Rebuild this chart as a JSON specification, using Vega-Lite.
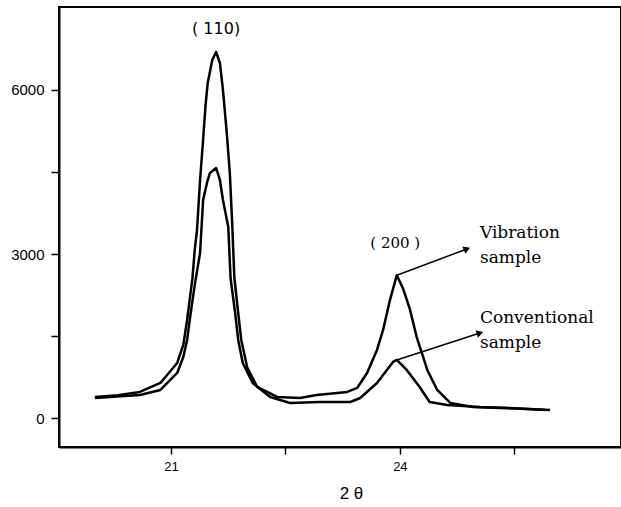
{
  "$schema": "https://vega.github.io/schema/vega-lite/v6.json",
  "width": 562,
  "height": 440,
  "autosize": {"type": "none"},
  "padding": {"left": 59, "top": 7, "right": 0, "bottom": 60},
  "background": "white",
  "config": {
    "view": {"stroke": "black", "strokeWidth": 2},
    "axis": {"domainColor": "black", "tickColor": "black", "labelColor": "black", "titleColor": "black", "grid": false, "domainWidth": 2, "tickWidth": 1.5, "labelFont": "Liberation Sans", "titleFont": "Liberation Sans"}
  },
  "datasets": {
    "curves": [
      {"series": "Vibration", "x": 20.00, "y": 389},
      {"series": "Vibration", "x": 20.30, "y": 420},
      {"series": "Vibration", "x": 20.59, "y": 481},
      {"series": "Vibration", "x": 20.86, "y": 645},
      {"series": "Vibration", "x": 21.08, "y": 1011},
      {"series": "Vibration", "x": 21.16, "y": 1340},
      {"series": "Vibration", "x": 21.21, "y": 1796},
      {"series": "Vibration", "x": 21.28, "y": 2560},
      {"series": "Vibration", "x": 21.31, "y": 3075},
      {"series": "Vibration", "x": 21.34, "y": 3441},
      {"series": "Vibration", "x": 21.38, "y": 4355},
      {"series": "Vibration", "x": 21.42, "y": 5086},
      {"series": "Vibration", "x": 21.45, "y": 5689},
      {"series": "Vibration", "x": 21.48, "y": 6128},
      {"series": "Vibration", "x": 21.54, "y": 6548},
      {"series": "Vibration", "x": 21.59, "y": 6694},
      {"series": "Vibration", "x": 21.64, "y": 6493},
      {"series": "Vibration", "x": 21.68, "y": 6000},
      {"series": "Vibration", "x": 21.73, "y": 5214},
      {"series": "Vibration", "x": 21.77, "y": 4483},
      {"series": "Vibration", "x": 21.80, "y": 3600},
      {"series": "Vibration", "x": 21.83, "y": 2560},
      {"series": "Vibration", "x": 21.88, "y": 1924},
      {"series": "Vibration", "x": 21.92, "y": 1431},
      {"series": "Vibration", "x": 22.00, "y": 920},
      {"series": "Vibration", "x": 22.13, "y": 572},
      {"series": "Vibration", "x": 22.39, "y": 389},
      {"series": "Vibration", "x": 22.69, "y": 371},
      {"series": "Vibration", "x": 22.91, "y": 426},
      {"series": "Vibration", "x": 23.31, "y": 481},
      {"series": "Vibration", "x": 23.44, "y": 554},
      {"series": "Vibration", "x": 23.57, "y": 828},
      {"series": "Vibration", "x": 23.70, "y": 1248},
      {"series": "Vibration", "x": 23.78, "y": 1614},
      {"series": "Vibration", "x": 23.87, "y": 2160},
      {"series": "Vibration", "x": 23.96, "y": 2615},
      {"series": "Vibration", "x": 24.04, "y": 2377},
      {"series": "Vibration", "x": 24.13, "y": 2001},
      {"series": "Vibration", "x": 24.22, "y": 1488},
      {"series": "Vibration", "x": 24.36, "y": 883},
      {"series": "Vibration", "x": 24.49, "y": 517},
      {"series": "Vibration", "x": 24.66, "y": 280},
      {"series": "Vibration", "x": 24.96, "y": 207},
      {"series": "Vibration", "x": 25.31, "y": 188},
      {"series": "Vibration", "x": 25.70, "y": 170},
      {"series": "Vibration", "x": 25.97, "y": 152},
      {"series": "Conventional", "x": 20.00, "y": 371},
      {"series": "Conventional", "x": 20.59, "y": 426},
      {"series": "Conventional", "x": 20.86, "y": 517},
      {"series": "Conventional", "x": 21.08, "y": 828},
      {"series": "Conventional", "x": 21.16, "y": 1120},
      {"series": "Conventional", "x": 21.21, "y": 1431},
      {"series": "Conventional", "x": 21.25, "y": 1852},
      {"series": "Conventional", "x": 21.31, "y": 2432},
      {"series": "Conventional", "x": 21.38, "y": 3020},
      {"series": "Conventional", "x": 21.42, "y": 3989},
      {"series": "Conventional", "x": 21.47, "y": 4300},
      {"series": "Conventional", "x": 21.51, "y": 4483},
      {"series": "Conventional", "x": 21.59, "y": 4574},
      {"series": "Conventional", "x": 21.64, "y": 4355},
      {"series": "Conventional", "x": 21.68, "y": 3989},
      {"series": "Conventional", "x": 21.75, "y": 3496},
      {"series": "Conventional", "x": 21.78, "y": 2560},
      {"series": "Conventional", "x": 21.84, "y": 1924},
      {"series": "Conventional", "x": 21.88, "y": 1431},
      {"series": "Conventional", "x": 21.94, "y": 1011},
      {"series": "Conventional", "x": 22.07, "y": 645},
      {"series": "Conventional", "x": 22.30, "y": 389},
      {"series": "Conventional", "x": 22.56, "y": 280},
      {"series": "Conventional", "x": 22.95, "y": 298},
      {"series": "Conventional", "x": 23.35, "y": 298},
      {"series": "Conventional", "x": 23.48, "y": 371},
      {"series": "Conventional", "x": 23.70, "y": 645},
      {"series": "Conventional", "x": 23.91, "y": 1029},
      {"series": "Conventional", "x": 23.96, "y": 1066},
      {"series": "Conventional", "x": 24.09, "y": 883},
      {"series": "Conventional", "x": 24.26, "y": 572},
      {"series": "Conventional", "x": 24.39, "y": 298},
      {"series": "Conventional", "x": 24.62, "y": 243},
      {"series": "Conventional", "x": 25.05, "y": 207},
      {"series": "Conventional", "x": 25.44, "y": 188},
      {"series": "Conventional", "x": 25.90, "y": 152}
    ],
    "arrows": [
      {"series": "Vibration", "x": 23.96, "y": 2615, "x2": 24.88, "y2": 3094},
      {"series": "Conventional", "x": 23.96, "y": 1066, "x2": 25.05, "y2": 1559}
    ],
    "notes": [
      {"x": 25.05, "y": 3386, "label": "Vibration"},
      {"x": 25.05, "y": 2930, "label": "sample"},
      {"x": 25.05, "y": 1830, "label": "Conventional"},
      {"x": 25.05, "y": 1376, "label": "sample"}
    ]
  },
  "layer": [
    {
      "data": {"name": "curves"},
      "mark": {"type": "line", "color": "black", "strokeWidth": 2.5, "strokeJoin": "round"},
      "encoding": {
        "x": {
          "field": "x", "type": "quantitative",
          "scale": {"domain": [19.53, 26.9], "nice": false, "zero": false},
          "axis": {"values": [21, 22.5, 24, 25.5], "format": "d", "labelExpr": "datum.value === 21 || datum.value === 24 ? datum.label : ''", "tickSize": 7, "labelFontSize": 13, "labelPadding": 6, "title": "2 θ", "titleFontSize": 17, "titleFontWeight": "normal", "titlePadding": 12, "titleX": 292}
        },
        "y": {
          "field": "y", "type": "quantitative",
          "scale": {"domain": [-525, 7516], "nice": false, "zero": false},
          "axis": {"values": [0, 1500, 3000, 4500, 6000], "format": "d", "labelExpr": "datum.value % 3000 === 0 ? datum.label : ''", "tickSize": 8, "labelFontSize": 15, "labelPadding": 7, "title": null}
        },
        "detail": {"field": "series"}
      }
    },
    {
      "data": {"name": "arrows"},
      "mark": {"type": "rule", "color": "black", "strokeWidth": 1.5},
      "encoding": {
        "x": {"field": "x", "type": "quantitative"},
        "y": {"field": "y", "type": "quantitative"},
        "x2": {"field": "x2"},
        "y2": {"field": "y2"}
      }
    },
    {
      "data": {"name": "arrows"},
      "transform": [{"filter": "datum.series === 'Vibration'"}],
      "mark": {"type": "point", "shape": "triangle-right", "filled": true, "color": "black", "size": 60, "angle": 339, "opacity": 1},
      "encoding": {
        "x": {"field": "x2", "type": "quantitative"},
        "y": {"field": "y2", "type": "quantitative"}
      }
    },
    {
      "data": {"name": "arrows"},
      "transform": [{"filter": "datum.series === 'Conventional'"}],
      "mark": {"type": "point", "shape": "triangle-right", "filled": true, "color": "black", "size": 60, "angle": 342, "opacity": 1},
      "encoding": {
        "x": {"field": "x2", "type": "quantitative"},
        "y": {"field": "y2", "type": "quantitative"}
      }
    },
    {
      "data": {"values": [{"x": 21.59, "y": 7114, "label": "( 110)"}]},
      "mark": {"type": "text", "font": "DejaVu Sans", "fontSize": 16, "align": "center", "baseline": "middle", "color": "black"},
      "encoding": {
        "x": {"field": "x", "type": "quantitative"},
        "y": {"field": "y", "type": "quantitative"},
        "text": {"field": "label"}
      }
    },
    {
      "data": {"values": [{"x": 23.94, "y": 3204, "label": "( 200 )"}]},
      "mark": {"type": "text", "font": "DejaVu Serif", "fontSize": 15, "align": "center", "baseline": "middle", "color": "black"},
      "encoding": {
        "x": {"field": "x", "type": "quantitative"},
        "y": {"field": "y", "type": "quantitative"},
        "text": {"field": "label"}
      }
    },
    {
      "data": {"name": "notes"},
      "mark": {"type": "text", "font": "DejaVu Serif", "fontSize": 17, "align": "left", "baseline": "middle", "color": "black"},
      "encoding": {
        "x": {"field": "x", "type": "quantitative"},
        "y": {"field": "y", "type": "quantitative"},
        "text": {"field": "label"}
      }
    }
  ]
}
